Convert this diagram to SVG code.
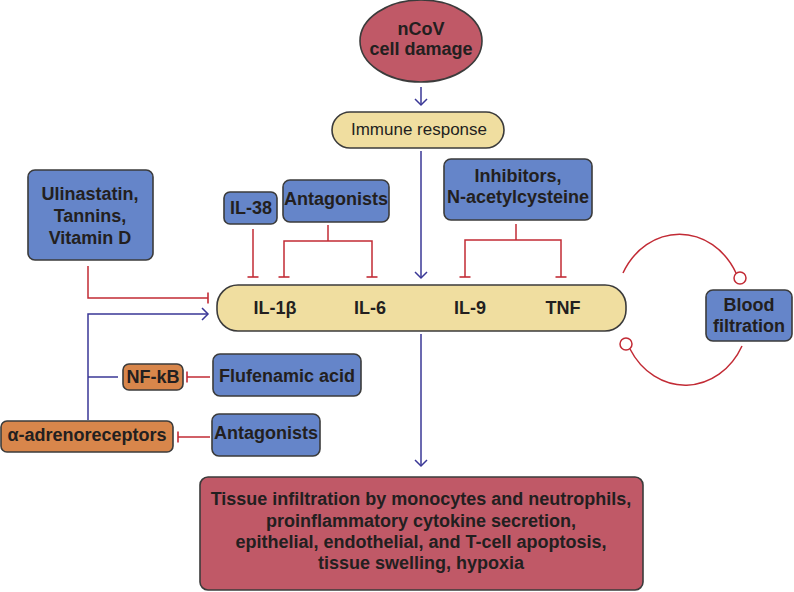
<svg xmlns="http://www.w3.org/2000/svg" width="794" height="592" viewBox="0 0 794 592">
<defs>
<style>
text{font-family:"Liberation Sans",Arial,sans-serif;font-size:18px;font-weight:bold;fill:#231f20;text-anchor:middle}
.reg{font-weight:normal;font-size:17px}
.node{stroke:#3b3b3b;stroke-width:1.6}
.blue{fill:#6585c9}
.org{fill:#d8864b}
.red{fill:#c05967}
.yel{fill:#f0dea0}
.inh{fill:none;stroke:#c22b35;stroke-width:1.5}
.act{fill:none;stroke:#3a3796;stroke-width:1.5}
</style>
<marker id="arr" markerUnits="userSpaceOnUse" markerWidth="16" markerHeight="16" viewBox="-8 -8 16 16" refX="0" refY="0" orient="auto">
<path d="M-6,-6 L0,0 L-6,6" fill="none" stroke="#3a3796" stroke-width="1.5"/>
</marker>
<marker id="bar" markerUnits="userSpaceOnUse" markerWidth="16" markerHeight="16" viewBox="-8 -8 16 16" refX="0" refY="0" orient="auto">
<path d="M0,-5.5 L0,5.5" fill="none" stroke="#c22b35" stroke-width="1.6"/>
</marker>
</defs>
<rect width="794" height="592" fill="#fff"/>

<g id="connectors">
<path class="act" d="M421 87 V105" marker-end="url(#arr)"/>
<path class="act" d="M421 151 V278" marker-end="url(#arr)"/>
<path class="act" d="M421 334 V466" marker-end="url(#arr)"/>
<path class="act" d="M88 420 V314 H208" marker-end="url(#arr)"/>
<path class="act" d="M88 377 H118"/>
<path class="inh" d="M88 266 V298 H208" marker-end="url(#bar)"/>
<path class="inh" d="M253 229 V277" marker-end="url(#bar)"/>
<path class="inh" d="M328 225 V241"/>
<path class="inh" d="M328 241 H284 V277" marker-end="url(#bar)"/>
<path class="inh" d="M328 241 H372 V277" marker-end="url(#bar)"/>
<path class="inh" d="M516 224 V240"/>
<path class="inh" d="M516 240 H465 V277" marker-end="url(#bar)"/>
<path class="inh" d="M516 240 H561 V277" marker-end="url(#bar)"/>
<path class="inh" d="M210 377 H187" marker-end="url(#bar)"/>
<path class="inh" d="M210 437 H178" marker-end="url(#bar)"/>
<path class="inh" d="M623 273 A64 73 0 0 1 736 273"/>
<circle class="inh" cx="740" cy="278" r="6" fill="#fff"/>
<path class="inh" d="M630 349 A64 73 0 0 0 742 346"/>
<circle class="inh" cx="626" cy="344" r="6" fill="#fff"/>
</g>

<g id="ncov">
<ellipse class="node red" cx="421" cy="41" rx="61" ry="41"/>
<text x="421" y="35">nCoV</text>
<text x="421" y="55">cell damage</text>
</g>
<g id="immune">
<rect class="node yel" x="332" y="112" width="172" height="36" rx="18"/>
<text class="reg" x="419" y="135">Immune response</text>
</g>
<g id="cytokines">
<rect class="node yel" x="217" y="285" width="409" height="46" rx="21"/>
<text x="275" y="314">IL-1β</text>
<text x="370" y="314">IL-6</text>
<text x="470" y="314">IL-9</text>
<text x="563" y="314">TNF</text>
</g>
<g id="ulinastatin">
<rect class="node blue" x="28" y="170" width="125" height="90" rx="7"/>
<text x="90" y="200">Ulinastatin,</text>
<text x="90" y="222">Tannins,</text>
<text x="90" y="244">Vitamin D</text>
</g>
<g id="il38">
<rect class="node blue" x="224" y="192" width="53" height="32" rx="6"/>
<text x="251" y="214">IL-38</text>
</g>
<g id="antagonists-top">
<rect class="node blue" x="283" y="180" width="106" height="42" rx="7"/>
<text x="336" y="205">Antagonists</text>
</g>
<g id="inhibitors">
<rect class="node blue" x="444" y="159" width="148" height="61" rx="7"/>
<text x="518" y="182">Inhibitors,</text>
<text x="518" y="203">N-acetylcysteine</text>
</g>
<g id="blood">
<rect class="node blue" x="706" y="290" width="86" height="51" rx="7"/>
<text x="749" y="311">Blood</text>
<text x="749" y="332">filtration</text>
</g>
<g id="nfkb">
<rect class="node org" x="123" y="364" width="60" height="26" rx="6"/>
<text x="153" y="383">NF-kB</text>
</g>
<g id="flufenamic">
<rect class="node blue" x="213" y="354" width="148" height="42" rx="7"/>
<text x="287" y="382">Flufenamic acid</text>
</g>
<g id="adreno">
<rect class="node org" x="1" y="421" width="172" height="31" rx="6"/>
<text x="87" y="441">α-adrenoreceptors</text>
</g>
<g id="antagonists-bottom">
<rect class="node blue" x="212" y="414" width="108" height="42" rx="7"/>
<text x="266" y="439">Antagonists</text>
</g>
<g id="outcome">
<rect class="node red" x="200" y="477" width="443" height="113" rx="8"/>
<text x="421" y="505">Tissue infiltration by monocytes and neutrophils,</text>
<text x="421" y="527">proinflammatory cytokine secretion,</text>
<text x="421" y="548">epithelial, endothelial, and T-cell apoptosis,</text>
<text x="421" y="569">tissue swelling, hypoxia</text>
</g>
</svg>
